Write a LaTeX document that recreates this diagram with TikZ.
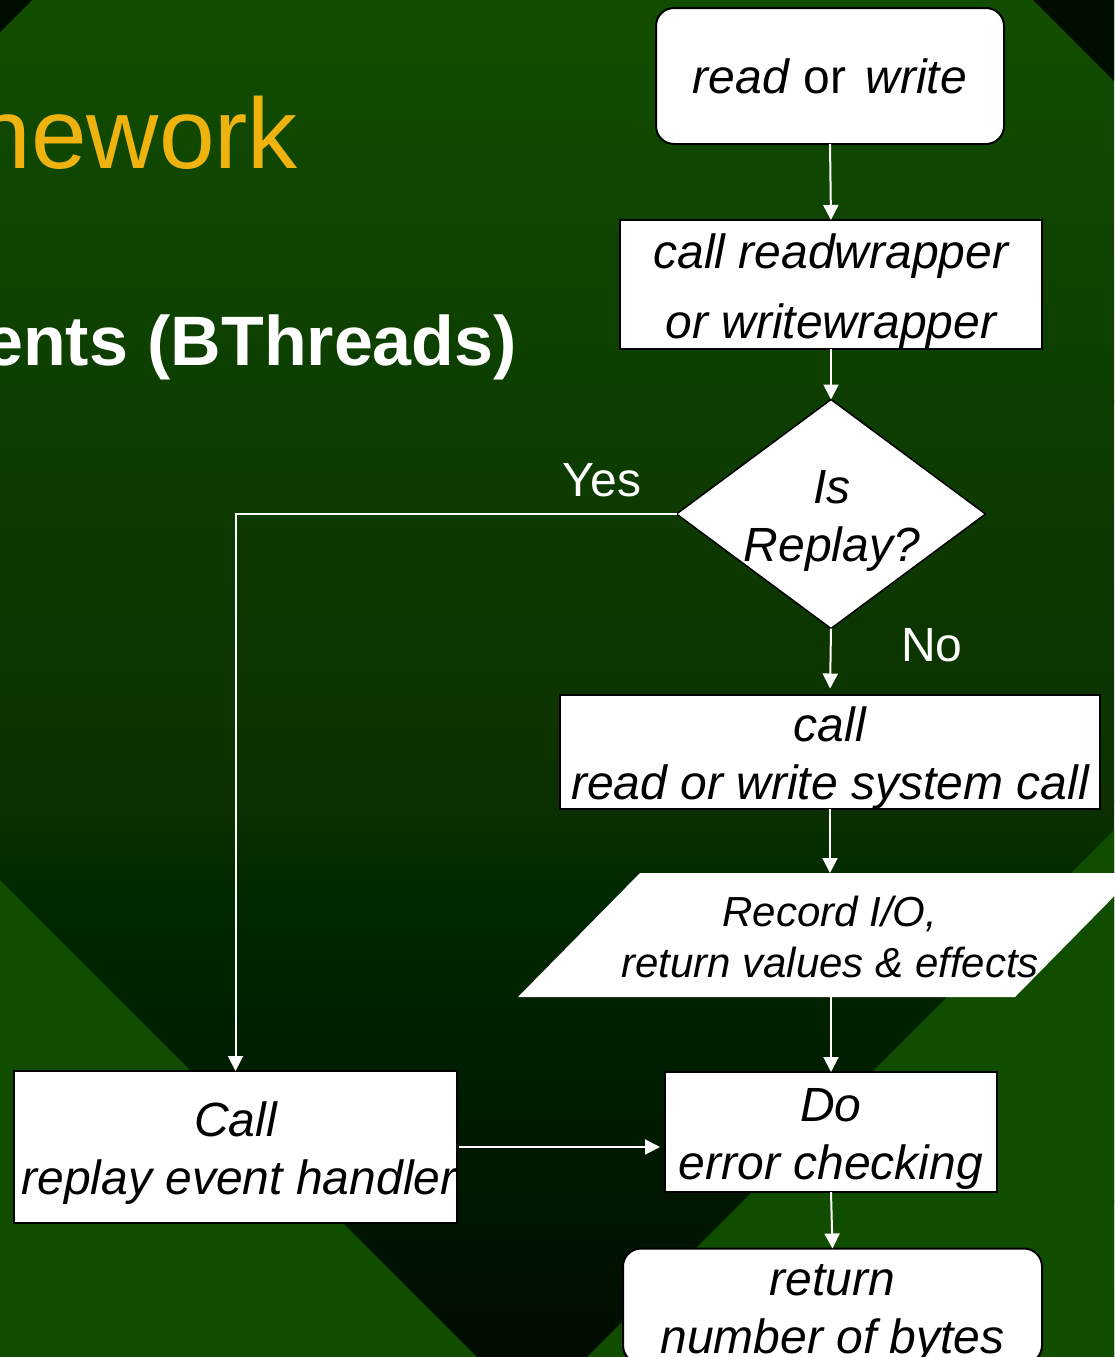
\documentclass[tikz,border=0pt]{standalone}
\usepackage{fontspec}
\setmainfont{Liberation Sans}
\usetikzlibrary{arrows.meta,shapes.geometric,calc}
\definecolor{gA}{RGB}{17,77,0}
\definecolor{gB}{RGB}{13,62,0}
\definecolor{gC}{RGB}{12,48,0}
\definecolor{gD}{RGB}{0,40,0}
\definecolor{gE}{RGB}{0,22,0}
\definecolor{gF}{RGB}{0,12,0}
\definecolor{cornerdark}{RGB}{0,14,0}
\definecolor{titleorange}{RGB}{239,179,16}
\newcommand\fstrut{\rule{0pt}{47pt}}
\begin{document}
\begin{tikzpicture}[x=1pt,y=-1pt,
  every node/.style={inner sep=0pt, outer sep=0pt},
  box/.style={draw=black, line width=2pt, fill=white, align=center,
    font=\fontsize{48}{58}\selectfont\itshape, text=black},
  rbox/.style={box, rounded corners=18pt},
  conn/.style={draw=white, line width=2pt, -{Triangle[length=15pt,width=15pt]}},
  lbl/.style={text=white, font=\fontsize{48}{58}\selectfont},
]
\useasboundingbox (0,0) rectangle (1114,1357);
% background
\shade[top color=gA, bottom color=gB] (0,0) rectangle (1114,401);
\shade[top color=gB, bottom color=gC] (0,400) rectangle (1114,801);
\shade[top color=gC, bottom color=gD] (0,800) rectangle (1114,901);
\shade[top color=gD, bottom color=gE] (0,900) rectangle (1114,1201);
\shade[top color=gE, bottom color=gF] (0,1200) rectangle (1114,1357);
\fill[cornerdark] (0,0) -- (32,0) -- (0,32) -- cycle;
\fill[cornerdark] (1033,0) -- (1114,0) -- (1114,81) -- cycle;
\fill[gA] (0,880) -- (477,1357) -- (0,1357) -- cycle;
\fill[gA] (1114,830) -- (1114,1357) -- (587,1357) -- cycle;

% title fragments
\node[anchor=base east, text=titleorange, font=\fontsize{100}{120}\selectfont] (t1) at (298,168) {nework};
\node[anchor=base east, text=white, font=\fontsize{70}{84}\selectfont\bfseries] (t2) at (517,365) {ents (BThreads)};

% flowchart nodes
\node[rbox, font=\fontsize{48}{58}\selectfont, minimum width=348pt, minimum height=136pt] (rw) at (830,76)
  {\textit{read} or\ \kern6pt\textit{write}};
\node[box, font=\fontsize{48}{70}\selectfont\itshape, minimum width=422pt, minimum height=129pt] (wrap) at (831,284.5)
  {\fstrut call readwrapper\\or writewrapper};
\node[shape=diamond, draw=black, line width=1.5pt, fill=white, minimum width=309pt, minimum height=229pt] (dia) at (831,514) {};
\node[align=center, font=\fontsize{48}{58}\selectfont\itshape] (diat) at (832,521) {Is\\Replay?};
\node[box, minimum width=540pt, minimum height=110pt] (sys) at (830,752)
  {\fstrut call\\read or write system call};
\node[minimum width=619pt, minimum height=124pt, align=center,
  font=\fontsize{42}{51}\selectfont\itshape] (rec) at (827.5,935)
  {\phantom{Record I/O,}\\\phantom{return values \& effects}};
\fill[white] ($(rec.north west)+(122,0)$) -- (rec.north east) -- ($(rec.south east)-(122,0)$) -- (rec.south west) -- cycle;
\node[align=center, font=\fontsize{42}{51}\selectfont\itshape] (rect) at (830,937)
  {Record I/O,\\return values \& effects};
\node[box, minimum width=332pt, minimum height=120pt] (err) at (831,1132)
  {\fstrut Do\\error checking};
\node[box, minimum width=443pt, minimum height=152pt] (call) at (235.5,1147)
  {\fstrut Call\\\hspace*{7pt}replay event handler};
\node[rbox, minimum width=419pt, minimum height=112pt] (ret) at (832.5,1306)
  {\fstrut return\\number of bytes};

% labels
\node[lbl] (yes) at (602,480) {Yes};
\node[lbl] (no) at (932,645) {No};

% connectors
\draw[conn] (rw.south) -- (wrap.north);
\draw[conn] (wrap.south) -- (dia.north);
\draw[conn, shorten >=6pt] (dia.south) -- (sys.north);
\draw[conn] (dia.west) -| (call.north);
\draw[conn] (sys.south) -- (rec.north -| sys.south);
\draw[conn] (rec.south -| err.north) -- (err.north);
\draw[conn, shorten >=5pt, shorten <=2pt] (call.east) -- (call.east -| err.west);
\draw[conn] (err.south) -- (ret.north);
\end{tikzpicture}
\end{document}
